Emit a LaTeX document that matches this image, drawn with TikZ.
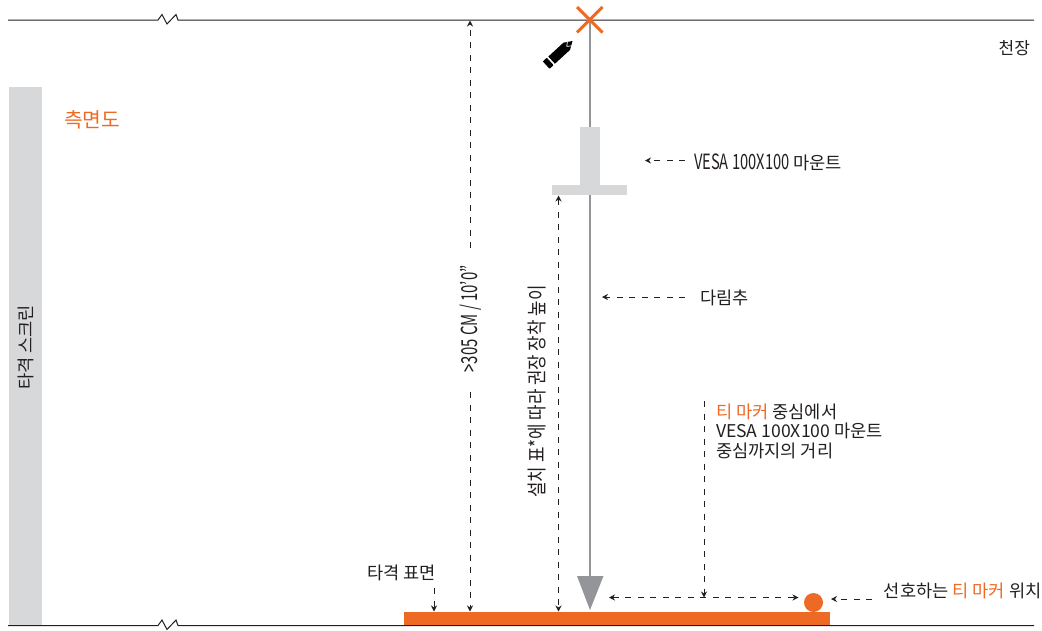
\documentclass[tikz,border=0pt]{standalone}
\usepackage{fontspec}
\setmainfont{Noto Sans CJK KR}
\usetikzlibrary{arrows.meta}
\definecolor{ink}{HTML}{231F20}
\definecolor{orng}{HTML}{EE6A24}
\definecolor{lgray}{HTML}{D7D8DA}
\definecolor{mgray}{HTML}{939598}
\newcommand{\cond}[2]{\scalebox{#1}[1]{#2}}
\tikzset{
  base/.style={draw=ink,line width=1pt},
  dim/.style={draw=ink,line width=.85pt,dash pattern=on 6pt off 6.5pt},
  tipb/.style={-{Stealth[length=6pt,width=6pt,ink]}},
  tipab/.style={{Stealth[length=6pt,width=6pt,ink]}-{Stealth[length=6pt,width=6pt,ink]}},
  lbl/.style={inner sep=0pt,outer sep=0pt,text=ink,font=\fontsize{17.6}{19.5}\selectfont},
  plumb/.style={draw=mgray,line width=1.8pt},
}
\begin{document}
\begin{tikzpicture}[x=1pt,y=-1pt]
\useasboundingbox (0,0) rectangle (1042,630);
% coordinates
\coordinate (cL) at (8,20); \coordinate (cB1) at (158,20); \coordinate (cB2) at (178,20); \coordinate (cR) at (1034,20);
\coordinate (fL) at (8,625.5); \coordinate (fB1) at (158,625.5); \coordinate (fB2) at (178,625.5); \coordinate (fR) at (1034,625.5);
% screen
\fill[lgray] (9,87) rectangle (42,625);
\node[lbl,rotate=90] (screen) at (25.5,347.5) {타격 스크린};
% ceiling and floor
\draw[base] (cL) -- (cB1) -- ++(4,-5.5) -- ++(5,9.5) -- ++(9,-9.5) -- (cB2) -- (cR);
\draw[base] (fL) -- (fB1) -- ++(4,-5.5) -- ++(5,9.5) -- ++(9,-9.5) -- (fB2) -- (fR);
% plumb line
\coordinate (pTop) at (590,20);
\coordinate (tri) at (590,596);
\draw[plumb] (pTop) -- (tri);
\fill[mgray] (577,576) -- (603.5,576) -- (590,610) -- cycle;
% mount
\fill[lgray] (580,127) rectangle (600,186);
\fill[lgray] (552,185) rectangle (627,195);
% orange X
\coordinate (xa) at (577,7); \coordinate (xb) at (602.5,32.5); \coordinate (xc) at (602.5,7); \coordinate (xd) at (577,32.5);
\draw[orng,line width=3pt] (xa) -- (xb) (xc) -- (xd);
% pencil
\begin{scope}[shift={(572.5,41)},x={(-0.72pt,-0.66pt)},y={(0.66pt,-0.72pt)}]
\fill[black] (0,0) -- (8,-5) -- (29,-5) -- (29,5) -- (8,5) -- cycle;
\draw[white,line width=.7pt] (4.5,-2.8) -- (8,0) -- (4.5,2.8);
\filldraw[black,line join=round,line width=1pt] (31.5,-4.6) -- (36,-4.6) -- (36,4.6) -- (31.5,4.6) -- cycle;
\end{scope}
% base bar and marker
\fill[orng] (404,612) rectangle (830,625);
\node[circle,fill=orng,minimum size=19pt,inner sep=0pt] (ball) at (813.5,602.5) {};
% labels
\node[lbl,font=\fontsize{20.4}{24}\selectfont,text=orng,anchor=west] (side) at (64,120) {측면도};
\node[lbl,anchor=east,font=\fontsize{17}{20}\selectfont] (ceil) at (1030,48) {천장};
\node[lbl,anchor=west] (vesa) at (694,162.5) {{\fontsize{21}{21}\selectfont\cond{.70}{VESA 100X100}} 마운트};
\node[lbl,anchor=west] (plum) at (700,298) {다림추};
\node[lbl,anchor=north west,align=left] (dist) at (716,403.5) {\textcolor{orng}{티 마커} 중심에서\\VESA 100X100 마운트\\중심까지의 거리};
\node[lbl,anchor=east] (surf) at (436,573) {타격 표면};
\node[lbl,anchor=east] (pref) at (1041.5,591) {선호하는 \textcolor{orng}{티 마커} 위치};
\node[lbl,rotate=90,font=\fontsize{22}{22}\selectfont] (h305) at (470.5,319) {\cond{.68}{>305 CM / 10'0"}};
\node[lbl,rotate=90,font=\fontsize{20}{20}\selectfont] (hrec) at (537,391.5) {\cond{.84}{설치 표*에 따라 권장 장착 높이}};
% dimension lines
\coordinate (a1) at (470,248); \coordinate (a2) at (470,20.5);
\coordinate (a3) at (470,392); \coordinate (a4) at (470,611.5);
\draw[dim,tipb] (a1) -- (a2);
\draw[dim,tipb] (a3) -- (a4);
\coordinate (b1) at (558.5,195.5); \coordinate (b2) at (558.5,611.5);
\draw[dim,tipab] (b1) -- (b2);
\coordinate (c1) at (434,588); \coordinate (c2) at (434,611.5);
\draw[dim,tipb] (c1) -- (c2);
\coordinate (d1) at (685,160.5); \coordinate (d2) at (645,160.5);
\draw[dim,tipb] (d1) -- (d2);
\coordinate (e1) at (685,297); \coordinate (e2) at (602,297);
\draw[dim,tipb] (e1) -- (e2);
\coordinate (g1) at (609,597.5); \coordinate (g2) at (798.5,597.5);
\draw[dim,tipab] (g1) -- (g2);
\coordinate (h1) at (704,401); \coordinate (h2) at (704,597.5);
\draw[dim,tipb] (h1) -- (h2);
\coordinate (k1) at (872,599); \coordinate (k2) at (831,599);
\draw[dim,tipb] (k1) -- (k2);
\end{tikzpicture}
\end{document}
